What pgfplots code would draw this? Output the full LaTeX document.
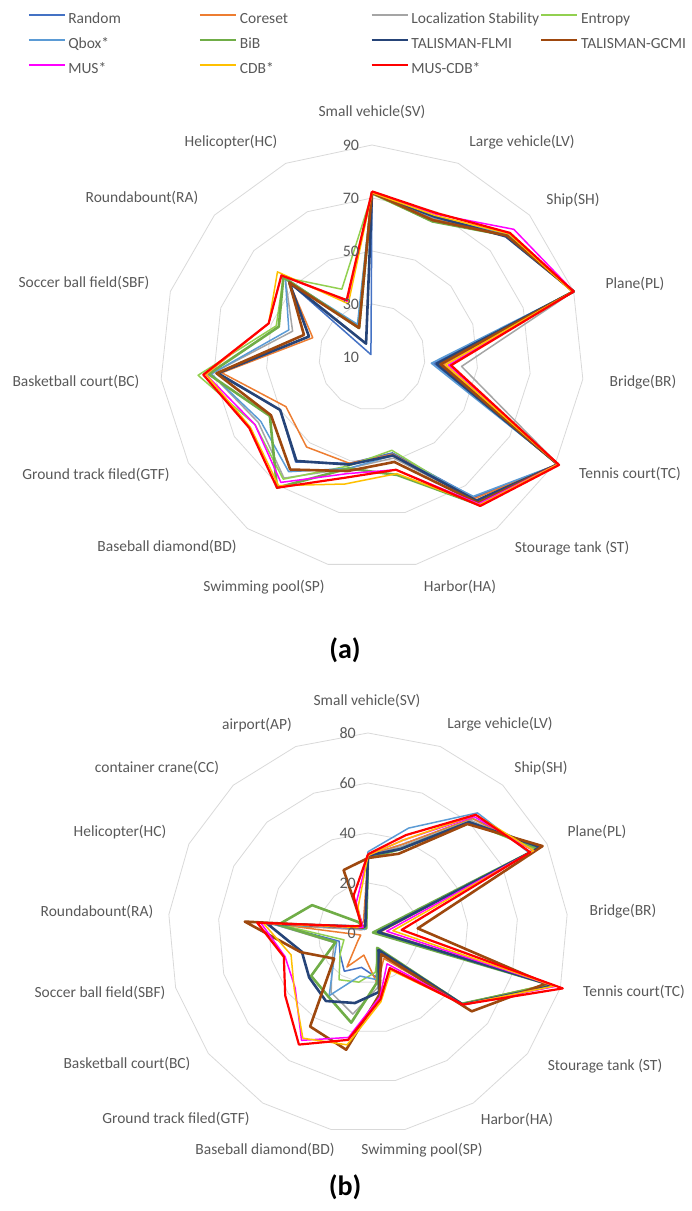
\documentclass[border=0pt]{standalone}
\usepackage{fontspec}
\setmainfont{Carlito}
\usepackage{pgfplots}
\usepackage{pgfplotstable}
\pgfplotsset{compat=1.18}

\definecolor{txt}{HTML}{595959}
\definecolor{ringc}{HTML}{D9D9D9}
\definecolor{cRandom}{HTML}{4472C4}
\definecolor{cCoreset}{HTML}{ED7D31}
\definecolor{cLoc}{HTML}{A5A5A5}
\definecolor{cEntropy}{HTML}{92D050}
\definecolor{cQbox}{HTML}{5B9BD5}
\definecolor{cBiB}{HTML}{70AD47}
\definecolor{cFLMI}{HTML}{264478}
\definecolor{cGCMI}{HTML}{9E480E}
\definecolor{cMUS}{HTML}{FF00FF}
\definecolor{cCDB}{HTML}{FFC000}
\definecolor{cMUSCDB}{HTML}{FF0000}

% chart (a): 15 categories, radial axis 10..90
\pgfplotstableread{
cat ang Random Coreset LocStab Entropy Qbox BiB FLMI GCMI MUS CDB MUSCDB
SV 90 72 72 72 71.5 72 72 72 72 72 72 72.5
LV 66 67.5 67 68 66 67.5 66 68 66.5 69 68.5 69.5
SH 42 78.5 79 79 78.5 79 78.5 78 78.5 82 79.5 80
PL 18 90 89.5 90 90 90 90 90 90 90 89.5 90
BR -6 33.5 37 44 36 32.5 35 34.5 36 39 38 40
TC -30 91 91 91 91 91 91 91 91 91 91 91.5
ST -54 75.5 76 77 78 75 79 77 78 78.5 79 79.5
HA -78 47 47.5 49 46 48 55.5 48 50.5 53.5 55 53.5
SP -102 51 51 53 52 53 53 51.5 54 55 59 56.5
BD -126 59 52 66.5 67 63.5 71 58.5 62.5 68.5 70 71
GTF -150 50 47.5 59.5 61 58.5 54.5 50 54 61 63 63.5
BC -174 69 67 71 76 71 72 68.5 69 73 73 74
SBF -198 35 33.5 41.5 48 43 47 35 37 51 51 51
RA -222 52 52 54 55 54 55 52 52 56 58 56
HC -246 11 23 23 38 23.5 22 15.5 22 33 32 33.5
SV -270 72 72 72 71.5 72 72 72 72 72 72 72.5
}\tblA

% chart (b): 17 categories, radial axis 0..80
\pgfplotstableread{
cat ang Random Coreset LocStab Entropy Qbox BiB FLMI GCMI MUS CDB MUSCDB
SV 90 31 31 31 30 32.5 30 31 30 31 31 31.5
LV 68.824 38 38 37 36 45 36 36 34 40 40 42
SH 47.647 62 62 61 60 65 60 60 59 63 64 64
PL 26.471 76 74 75 75 72 76 77 78 74 74 72.5
BR 5.294 4 5 4 3 4 2 4 20 7.5 10 13.5
TC -15.882 76 75 76 75 77 76 77 74 78 77.5 81
ST -37.059 47 47 47 47 47 47 47.5 52 47.5 47.5 47.5
HA -58.235 8 12 10 8 9 7 8 10 14.5 17.5 16.5
SP -79.412 18 21 22 16 19 20 24 25 26 28 27
BD -100.588 14 9 33 20 17.5 36.5 28.5 47.5 42.5 45.5 43.5
GTF -121.765 18 16 28 22 29.5 30 32 44 50.5 49.5 52.5
BC -142.941 14 5 18 14 17 28.5 29.5 17 36.5 37 41.5
SBF -164.118 12 3 14 10 13 13.5 27.5 28 34.5 32 35
RA -185.294 37 33 38 35 38 36 40.5 49.5 43 42 44.5
HC -206.471 4 3 3 5 4 25 6 5 5 5 6
CC -227.647 2 4 2 3 2 6 3 3 3 4 4
AP -248.824 2 5 2 2 3 2 3 27 13 11 16
SV -270 31 31 31 30 32.5 30 31 30 31 31 31.5
}\tblB

\pgfplotsset{
  ser/.style={no markers, line join=round, data cs=polar},
  thin/.style={line width=1.5pt},
  thick/.style={line width=2.6pt},
  ring/.style={ringc, line width=0.8pt, no markers, data cs=polar, forget plot},
}
\tikzset{
  lbl/.style={font=\fontsize{15.5}{18}\selectfont, text=txt, inner sep=0pt},
  tick/.style={font=\fontsize{16}{18}\selectfont, text=txt, inner sep=0pt, anchor=east},
}

\begin{document}
\begin{tikzpicture}
\path[use as bounding box] (0pt,0pt) rectangle (692pt,1211pt);

% ---------------- chart (a) ----------------
\begin{axis}[
  at={(0pt,0pt)}, anchor=south west,
  x=2.65pt, y=2.65pt,
  xmin=-140.377, xmax=120.755, ymin=-322.264, ymax=134.717,
  hide axis, clip=false, enlargelimits=false,
  legend columns=4,
  legend cell align=left,
  legend style={at={(0.0361,0.9918)}, anchor=north west, draw=none, fill=none,
    font=\fontsize{15.5}{18}\selectfont, text=txt,
    nodes={inner sep=0pt, text height=11pt, text depth=3pt},
    row sep=11pt, column sep=0pt},
  legend image code/.code={\draw[#1] (0pt,4pt) -- (36pt,4pt);},
]
\addplot[ring] table[x=ang, y expr=20] {\tblA};
\addplot[ring] table[x=ang, y expr=40] {\tblA};
\addplot[ring] table[x=ang, y expr=60] {\tblA};
\addplot[ring] table[x=ang, y expr=80] {\tblA};

\addplot[ser, thin, cRandom]  table[x=ang, y expr=\thisrow{Random}-10] {\tblA};
\addlegendentry{\makebox[133pt][l]{\,Random}}
\addplot[ser, thin, cCoreset] table[x=ang, y expr=\thisrow{Coreset}-10] {\tblA};
\addlegendentry{\makebox[133pt][l]{\,Coreset}}
\addplot[ser, thin, cLoc]     table[x=ang, y expr=\thisrow{LocStab}-10] {\tblA};
\addlegendentry{\makebox[131pt][l]{\,Localization Stability}}
\addplot[ser, thin, cEntropy] table[x=ang, y expr=\thisrow{Entropy}-10] {\tblA};
\addlegendentry{\,Entropy}
\addplot[ser, thin, cQbox]    table[x=ang, y expr=\thisrow{Qbox}-10] {\tblA};
\addlegendentry{\makebox[133pt][l]{\,Qbox*}}
\addplot[ser, thick, cBiB]    table[x=ang, y expr=\thisrow{BiB}-10] {\tblA};
\addlegendentry{\makebox[133pt][l]{\,BiB}}
\addplot[ser, thick, cFLMI]   table[x=ang, y expr=\thisrow{FLMI}-10] {\tblA};
\addlegendentry{\makebox[131pt][l]{\,TALISMAN-FLMI}}
\addplot[ser, thick, cGCMI]   table[x=ang, y expr=\thisrow{GCMI}-10] {\tblA};
\addlegendentry{\,TALISMAN-GCMI}
\addplot[ser, thin, cMUS]     table[x=ang, y expr=\thisrow{MUS}-10] {\tblA};
\addlegendentry{\makebox[133pt][l]{\,MUS*}}
\addplot[ser, thin, cCDB]     table[x=ang, y expr=\thisrow{CDB}-10] {\tblA};
\addlegendentry{\makebox[133pt][l]{\,CDB*}}
\addplot[ser, line width=2.2pt, cMUSCDB] table[x=ang, y expr=\thisrow{MUSCDB}-10] {\tblA};
\addlegendentry{\makebox[131pt][l]{\,MUS-CDB*}}

\node[tick] at (axis cs:-4.8,0)  {10};
\node[tick] at (axis cs:-4.8,20) {30};
\node[tick] at (axis cs:-4.8,40) {50};
\node[tick] at (axis cs:-4.8,60) {70};
\node[tick] at (axis cs:-4.8,80) {90};
\end{axis}

% ---------------- chart (b) ----------------
\begin{axis}[
  at={(0pt,0pt)}, anchor=south west,
  x=2.5pt, y=2.5pt,
  xmin=-147.2, xmax=129.6, ymin=-111.2, ymax=373.2,
  hide axis, clip=false, enlargelimits=false,
]
\addplot[ring] table[x=ang, y expr=20] {\tblB};
\addplot[ring] table[x=ang, y expr=40] {\tblB};
\addplot[ring] table[x=ang, y expr=60] {\tblB};
\addplot[ring] table[x=ang, y expr=80] {\tblB};

\addplot[ser, thin, cRandom]  table[x=ang, y=Random] {\tblB};
\addplot[ser, thin, cCoreset] table[x=ang, y=Coreset] {\tblB};
\addplot[ser, thin, cLoc]     table[x=ang, y=LocStab] {\tblB};
\addplot[ser, thin, cEntropy] table[x=ang, y=Entropy] {\tblB};
\addplot[ser, thin, cQbox]    table[x=ang, y=Qbox] {\tblB};
\addplot[ser, thick, cBiB]    table[x=ang, y=BiB] {\tblB};
\addplot[ser, thick, cFLMI]   table[x=ang, y=FLMI] {\tblB};
\addplot[ser, thick, cGCMI]   table[x=ang, y=GCMI] {\tblB};
\addplot[ser, thin, cMUS]     table[x=ang, y=MUS] {\tblB};
\addplot[ser, thin, cCDB]     table[x=ang, y=CDB] {\tblB};
\addplot[ser, line width=2.2pt, cMUSCDB] table[x=ang, y=MUSCDB] {\tblB};

\node[tick] at (axis cs:-4.8,0)  {0};
\node[tick] at (axis cs:-4.8,20) {20};
\node[tick] at (axis cs:-4.8,40) {40};
\node[tick] at (axis cs:-4.8,60) {60};
\node[tick] at (axis cs:-4.8,80) {80};
\end{axis}

% category labels (a)
\node[lbl] at (372pt,1099pt) {Small vehicle(SV)};
\node[lbl] at (522pt,1069pt) {Large vehicle(LV)};
\node[lbl] at (573pt,1011pt) {Ship(SH)};
\node[lbl] at (635pt,927pt) {Plane(PL)};
\node[lbl] at (643pt,829pt) {Bridge(BR)};
\node[lbl] at (630pt,737pt) {Tennis court(TC)};
\node[lbl] at (572pt,663pt) {Stourage tank (ST)};
\node[lbl] at (460pt,624pt) {Harbor(HA)};
\node[lbl] at (264pt,624pt) {Swimming pool(SP)};
\node[lbl] at (167pt,664pt) {Baseball diamond(BD)};
\node[lbl] at (96pt,736pt) {Ground track filed(GTF)};
\node[lbl] at (76pt,829pt) {Basketball court(BC)};
\node[lbl] at (84pt,928pt) {Soccer ball field(SBF)};
\node[lbl] at (142pt,1013pt) {Roundabount(RA)};
\node[lbl] at (231pt,1069pt) {Helicopter(HC)};
\node[font=\bfseries\fontsize{28}{30}\selectfont, inner sep=0pt] at (345pt,561pt) {(a)};

% category labels (b)
\node[lbl] at (367pt,510pt) {Small vehicle(SV)};
\node[lbl] at (500pt,487pt) {Large vehicle(LV)};
\node[lbl] at (541pt,443pt) {Ship(SH)};
\node[lbl] at (597pt,379pt) {Plane(PL)};
\node[lbl] at (623pt,300pt) {Bridge(BR)};
\node[lbl] at (634pt,219pt) {Tennis court(TC)};
\node[lbl] at (605pt,145pt) {Stourage tank (ST)};
\node[lbl] at (517pt,91pt) {Harbor(HA)};
\node[lbl] at (422pt,61pt) {Swimming pool(SP)};
\node[lbl] at (265pt,61pt) {Baseball diamond(BD)};
\node[lbl] at (176pt,92pt) {Ground track filed(GTF)};
\node[lbl] at (127pt,147pt) {Basketball court(BC)};
\node[lbl] at (100pt,218pt) {Soccer ball field(SBF)};
\node[lbl] at (97pt,299pt) {Roundabount(RA)};
\node[lbl] at (120pt,379pt) {Helicopter(HC)};
\node[lbl] at (157pt,443pt) {container crane(CC)};
\node[lbl] at (257pt,486pt) {airport(AP)};
\node[font=\bfseries\fontsize{28}{30}\selectfont, inner sep=0pt] at (345pt,24pt) {(b)};
\end{tikzpicture}
\end{document}
